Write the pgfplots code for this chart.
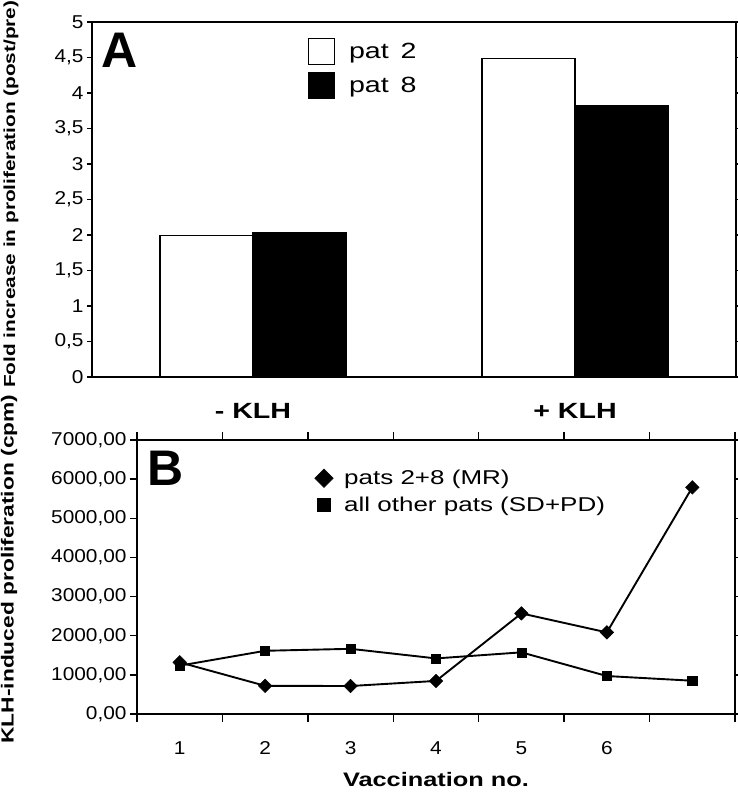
\documentclass[border=0pt]{standalone}
\usepackage{fontspec}
\setmainfont{Liberation Sans}[FakeStretch=1.3]
\newfontfamily\tickfont{Liberation Sans}[FakeStretch=1.12]
\newfontfamily\plainfont{Liberation Sans}
\usepackage{pgfplots}
\pgfplotsset{compat=1.18}
\pgfplotsset{every axis/.append style={/pgf/number format/assume math mode=true}}
\begin{document}
\begin{tikzpicture}
\useasboundingbox (0bp,0bp) rectangle (738bp,792bp);
% ---------------- Panel A ----------------
\begin{axis}[
  at={(92bp,415bp)}, anchor=south west, scale only axis,
  width=644bp, height=355bp,
  xmin=-0.5, xmax=1.5, ymin=0, ymax=5,
  ybar=0pt, bar width=93bp,
  xtick={0,1}, xticklabels={- KLH, + KLH},
  major x tick style={draw=none},
  x tick label style={font=\bfseries\fontsize{22bp}{24bp}\selectfont, anchor=center, yshift=-29bp},
  ytick={0,0.5,...,5},
  y tick label style={font=\tickfont\fontsize{18.6bp}{20bp}\selectfont, /pgf/number format/use comma},
  tick align=outside, major tick length=5bp,
  every tick/.style={black, line width=1.3bp},
  axis line style={line width=1.5bp},
  ylabel={Fold increase in proliferation (post/pre)},
  ylabel style={font=\bfseries\fontsize{16bp}{18bp}\selectfont, at={(axis description cs:-0.1258,0.515)}, anchor=center},
  legend style={draw=none, fill=none, at={(axis description cs:0.33,0.962)}, anchor=north west,
    font=\fontsize{22bp}{24bp}\selectfont, row sep=7bp,
    /tikz/every odd column/.append style={column sep=12bp}},
  legend image code/.code={\draw[#1, line width=1.3bp] (0bp,-13bp) rectangle (26bp,13bp);},
  legend cell align=left,
  clip=false,
]
\addplot[draw=black, fill=white, line width=1.3bp] coordinates {(0,1.99) (1,4.49)};
\addplot[draw=black, fill=black, line width=1.3bp] coordinates {(0,2.04) (1,3.82)};
\legend{pat\hspace{12bp}2, pat\hspace{12bp}8}
\node[font=\plainfont\bfseries\fontsize{50bp}{52bp}\selectfont, anchor=center] at (axis description cs:0.0435,0.921) {A};
\end{axis}
% ---------------- Panel B ----------------
\begin{axis}[
  at={(137bp,78bp)}, anchor=south west, scale only axis,
  width=598bp, height=274bp,
  xmin=0.5, xmax=7.5, ymin=0, ymax=7000,
  xtick={1,2,3,4,5,6},
  minor xtick={0.5,1.5,...,7.5},
  major x tick style={draw=none},
  minor tick length=8bp,
  x tick label style={font=\tickfont\fontsize{18.6bp}{20bp}\selectfont, anchor=center, yshift=-27.5bp},
  ytick={0,1000,...,7000},
  y tick label style={font=\tickfont\fontsize{18.6bp}{20bp}\selectfont,
    /pgf/number format/.cd, fixed, fixed zerofill, precision=2, use comma, 1000 sep={}},
  tick align=outside, major tick length=7bp,
  every tick/.style={black, line width=1.3bp},
  axis line style={line width=1.5bp},
  ylabel={KLH-induced proliferation (cpm)},
  ylabel style={font=\bfseries\fontsize{17.5bp}{19bp}\selectfont, at={(axis description cs:-0.214,0.529)}, anchor=center},
  xlabel={Vaccination no.},
  xlabel style={font=\bfseries\fontsize{19.5bp}{21bp}\selectfont, at={(axis description cs:0.5,-0.2409)}, anchor=center},
  legend style={draw=none, fill=none, at={(axis description cs:0.292,0.905)}, anchor=north west,
    font=\fontsize{20bp}{22bp}\selectfont, row sep=7bp,
    /tikz/every odd column/.append style={column sep=9bp}},
  legend image code/.code={\draw[#1, mark size=6.5bp, only marks] plot coordinates {(10bp,0bp)};},
  legend cell align=left,
  clip=false,
]
\addplot[black, line width=1.9bp, mark=square*, mark options={rotate=45, line width=0.5bp}, mark size=4.8bp]
  coordinates {(1,1320) (2,720) (3,715) (4,845) (5,2570) (6,2085) (7,5790)};
\addplot[black, line width=1.9bp, mark=square*, mark options={line width=0.5bp}, mark size=4.6bp]
  coordinates {(1,1235) (2,1615) (3,1665) (4,1420) (5,1575) (6,970) (7,850)};
\legend{pats 2+8 (MR), all other pats (SD+PD)}
\node[font=\plainfont\bfseries\fontsize{50bp}{52bp}\selectfont, anchor=center] at (axis description cs:0.0485,0.898) {B};
\end{axis}
\end{tikzpicture}
\end{document}
